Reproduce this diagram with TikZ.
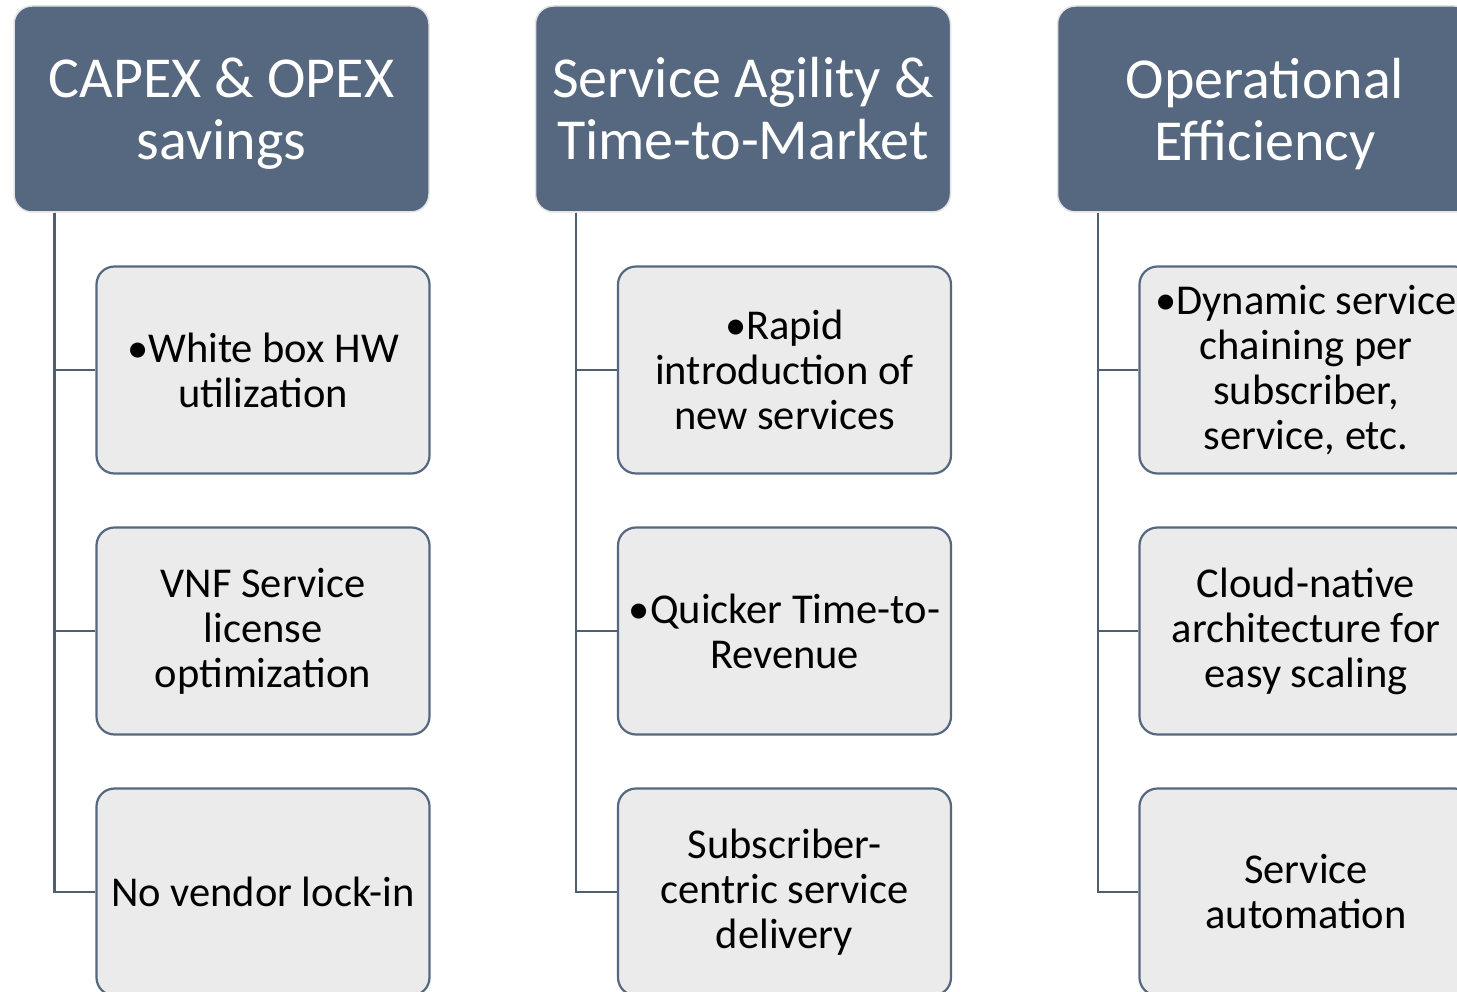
\documentclass[tikz,border=0pt]{standalone}
\usepackage{fontspec}
\setmainfont{Carlito}
\definecolor{slate}{HTML}{56687F}
\definecolor{panel}{HTML}{EBEBEB}
\definecolor{rim}{HTML}{E3E3E3}
\definecolor{wire}{HTML}{4E5E73}
\tikzset{
  header/.style={rectangle, rounded corners=18pt, fill=slate, draw=rim, line width=1.5pt,
    minimum width=415pt, minimum height=206pt, inner sep=0pt, text=white,
    font=\fontsize{58}{62}\selectfont, align=center},
  item/.style={rectangle, rounded corners=18pt, fill=panel, draw=slate, line width=2.2pt,
    minimum width=333pt, minimum height=207pt, inner sep=0pt, text=black,
    font=\fontsize{42.5}{45}\selectfont, align=center},
  link/.style={draw=wire, line width=2.5pt}
}
\begin{document}
\begin{tikzpicture}[x=1pt, y=-1pt]
\useasboundingbox (0,0) rectangle (1457,992);
\clip (0,0) rectangle (1457,992);

% column headers
\node[header] (h1) at (221.5,109) {CAPEX \& OPEX\\\smash{savings}};
\node[header] (h2) at (743,109) {Service Agility \&\\Time-to-Market};
\node[header] (h3) at (1265,109) {Operational\\\smash{Efficiency}};

% first column
\node[item] (c11) at (263,370) {•White box HW\\utilization};
\node[item] (c12) at (263,631) {VNF Service\\license\\optimization};
\node[item] (c13) at (263,892) {No vendor lock-in};

% second column
\node[item] (c21) at (784.5,370) {•Rapid\\introduction of\\new services};
\node[item] (c22) at (784.5,631) {•Quicker Time-to-\\Revenue};
\node[item] (c23) at (784.5,892) {Subscriber-\\centric service\\delivery};

% third column
\node[item] (c31) at (1306,370) {•Dynamic service\\chaining per\\subscriber,\\service, etc.};
\node[item] (c32) at (1306,631) {Cloud-native\\architecture for\\easy scaling};
\node[item] (c33) at (1306,892) {Service\\automation};

% tree connectors
\foreach \h/\c in {h1/c1, h2/c2, h3/c3}{
  \draw[link] (\h.south west) ++(41,0) |- (\c3.west);
  \draw[link] (\h.south west) ++(41,0) |- (\c2.west);
  \draw[link] (\h.south west) ++(41,0) |- (\c1.west);
}
\end{tikzpicture}
\end{document}
